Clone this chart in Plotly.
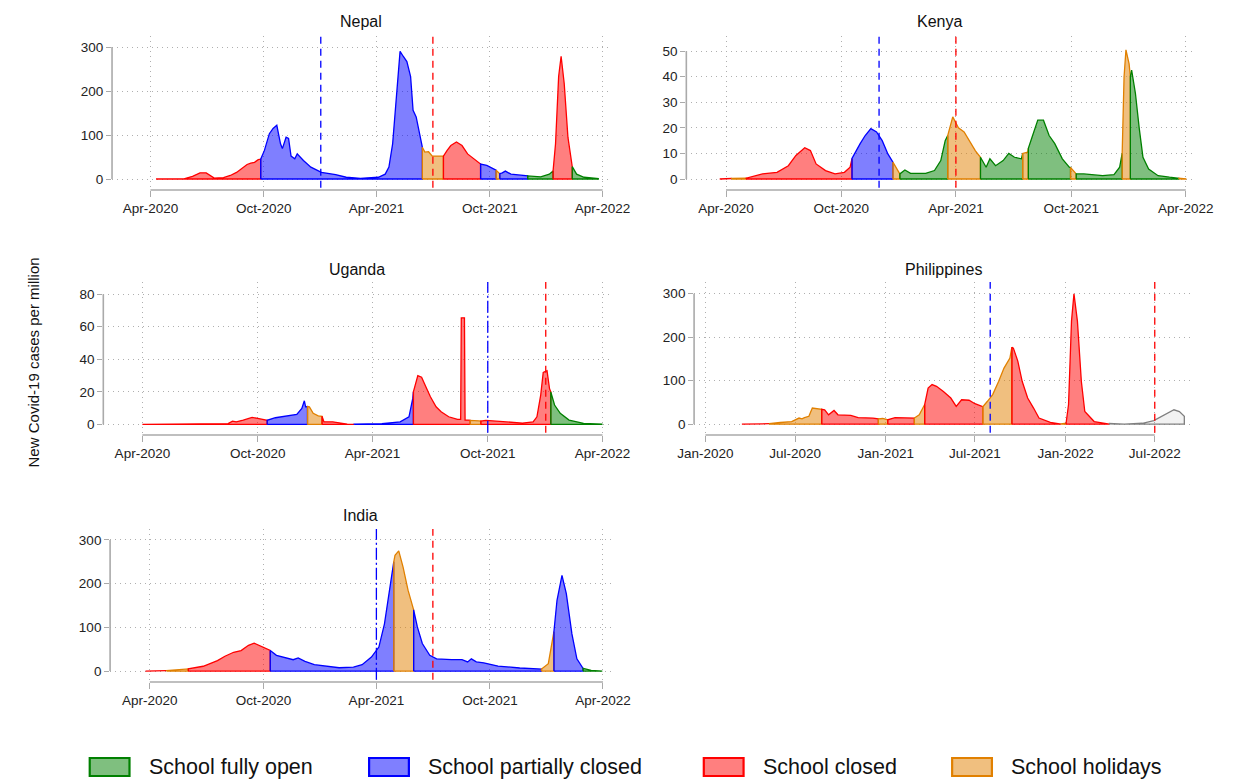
import plotly.graph_objects as go

W, H = 1237, 781

# ---------------- data ----------------
STATUS_ORDER = ["G", "B", "R", "O"]
STATUS_LABELS = {"G": "School fully open", "B": "School partially closed",
                 "R": "School closed", "O": "School holidays"}

TICKS_A = ["2020-04-01", "2020-10-01", "2021-04-01", "2021-10-01", "2022-04-01"]
LABELS_A = ["Apr-2020", "Oct-2020", "Apr-2021", "Oct-2021", "Apr-2022"]
TICKS_B = ["2020-01-01", "2020-07-01", "2021-01-01", "2021-07-01", "2022-01-01", "2022-07-01"]
LABELS_B = ["Jan-2020", "Jul-2020", "Jan-2021", "Jul-2021", "Jan-2022", "Jul-2022"]

NEPAL_DATES = ["2020-04-10", "2020-05-25", "2020-06-08", "2020-06-20", "2020-06-30", "2020-07-08", "2020-07-13",
               "2020-07-28", "2020-08-08", "2020-08-18", "2020-09-04", "2020-09-10", "2020-09-16", "2020-09-22",
               "2020-09-26", "2020-10-02", "2020-10-10", "2020-10-16", "2020-10-22", "2020-10-28", "2020-10-31",
               "2020-11-06", "2020-11-10", "2020-11-14", "2020-11-20", "2020-11-24", "2020-12-04", "2020-12-16",
               "2021-01-02", "2021-01-25", "2021-02-11", "2021-03-06", "2021-04-04", "2021-04-15", "2021-04-21",
               "2021-04-27", "2021-05-03", "2021-05-09", "2021-05-14", "2021-05-20", "2021-05-26", "2021-05-30",
               "2021-06-04", "2021-06-10", "2021-06-14", "2021-06-18", "2021-06-24", "2021-06-30", "2021-07-17",
               "2021-07-18", "2021-07-24", "2021-07-30", "2021-08-08", "2021-08-17", "2021-08-26", "2021-09-06",
               "2021-09-16", "2021-09-26", "2021-10-07", "2021-10-11", "2021-10-17", "2021-10-21", "2021-10-26",
               "2021-11-04", "2021-11-12", "2021-11-30", "2021-12-01", "2021-12-22", "2022-01-05", "2022-01-11",
               "2022-01-15", "2022-01-20", "2022-01-24", "2022-01-29", "2022-02-04", "2022-02-11", "2022-02-18",
               "2022-03-02", "2022-03-25"]
NEPAL_CASES = [0, 0.5, 6, 14, 14, 6, 2,
               3, 8, 15, 33, 36, 38, 44,
               45, 65, 103, 115, 122, 80, 69,
               95, 92, 52, 46, 57, 42, 27,
               15, 10, 4, 1.5, 4, 11, 27,
               80, 195, 290, 279, 267, 233, 156,
               141, 95, 72, 61, 62, 52, 52,
               52, 65, 76, 84, 76, 57, 46,
               34, 31, 23, 20, 12, 14, 18,
               11, 10, 8, 7, 5, 11, 18,
               80, 233, 279, 217, 95, 28, 11,
               4, 0.8]
NEPAL_STATUS = ["R", "R", "R", "R", "R", "R", "R",
                "R", "R", "R", "R", "R", "R", "R",
                "B", "B", "B", "B", "B", "B", "B",
                "B", "B", "B", "B", "B", "B", "B",
                "B", "B", "B", "B", "B", "B", "B",
                "B", "B", "B", "B", "B", "B", "B",
                "B", "B", "O", "O", "O", "O", "O",
                "R", "R", "R", "R", "R", "R", "R",
                "B", "B", "B", "O", "B", "B", "B",
                "B", "B", "B", "G", "G", "G", "R",
                "R", "R", "R", "R", "R", "G", "G",
                "G", "G"]
NEPAL_VLINES = ["2021-01-01", "2021-07-01"]

KENYA_DATES = ["2020-03-22", "2020-04-10", "2020-05-03", "2020-05-29", "2020-06-21", "2020-07-09", "2020-07-21",
               "2020-08-04", "2020-08-13", "2020-08-22", "2020-09-06", "2020-09-21", "2020-10-06", "2020-10-15",
               "2020-10-18", "2020-10-31", "2020-11-08", "2020-11-17", "2020-11-26", "2020-12-05", "2020-12-14",
               "2020-12-22", "2021-01-02", "2021-01-10", "2021-01-19", "2021-02-12", "2021-02-26", "2021-03-08",
               "2021-03-15", "2021-03-19", "2021-03-27", "2021-04-05", "2021-04-14", "2021-04-23", "2021-05-02",
               "2021-05-10", "2021-05-19", "2021-05-25", "2021-06-03", "2021-06-15", "2021-06-24", "2021-07-03",
               "2021-07-14", "2021-07-16", "2021-07-24", "2021-07-25", "2021-07-31", "2021-08-09", "2021-08-18",
               "2021-08-27", "2021-09-05", "2021-09-17", "2021-09-28", "2021-09-30", "2021-10-09", "2021-10-21",
               "2021-11-20", "2021-12-08", "2021-12-17", "2021-12-21", "2021-12-24", "2021-12-27", "2022-01-01",
               "2022-01-03", "2022-01-05", "2022-01-11", "2022-01-17", "2022-01-23", "2022-02-01", "2022-02-16",
               "2022-03-06", "2022-03-21", "2022-04-01"]
KENYA_CASES = [0, 0.2, 0.3, 2, 2.6, 5.2, 9.2,
               12.2, 11.1, 5.9, 3.3, 2, 2.6, 4.6,
               8, 13.8, 17, 19.7, 18.4, 15, 9.8,
               6.6, 2, 3.5, 2.2, 2.2, 3.3, 7.2,
               15, 17, 24.3, 20, 18.4, 14.4, 11,
               8.5, 4.6, 7.9, 5.2, 7.2, 10, 8.5,
               7.9, 10, 10.5, 12, 16.4, 23, 23,
               17, 13.8, 7.9, 4.6, 4.5, 2, 2,
               1.3, 1.7, 4.6, 10, 40, 50.5, 45,
               40, 42.6, 33.5, 20, 8.5, 3.9, 1.3,
               0.7, 0.3, 0.1]
KENYA_STATUS = ["R", "O", "R", "R", "R", "R", "R",
                "R", "R", "R", "R", "R", "R", "R",
                "B", "B", "B", "B", "B", "B", "B",
                "O", "G", "G", "G", "G", "G", "G",
                "G", "O", "O", "O", "O", "O", "O",
                "G", "G", "G", "G", "G", "G", "G",
                "G", "O", "O", "G", "G", "G", "G",
                "G", "G", "G", "G", "O", "G", "G",
                "G", "G", "G", "O", "O", "O", "O",
                "G", "G", "G", "G", "G", "G", "G",
                "G", "O", "O"]
KENYA_VLINES = ["2020-11-30", "2021-04-01"]

UGANDA_DATES = ["2020-04-01", "2020-05-15", "2020-06-01", "2020-06-10", "2020-08-15", "2020-08-22", "2020-08-28",
                "2020-09-08", "2020-09-22", "2020-10-01", "2020-10-12", "2020-10-16", "2020-10-29", "2020-11-16",
                "2020-12-02", "2020-12-10", "2020-12-14", "2020-12-16", "2020-12-19", "2020-12-22", "2020-12-28",
                "2021-01-05", "2021-01-11", "2021-01-14", "2021-01-28", "2021-02-20", "2021-03-03", "2021-04-16",
                "2021-05-15", "2021-05-29", "2021-06-02", "2021-06-04", "2021-06-05", "2021-06-12", "2021-06-18",
                "2021-06-26", "2021-07-02", "2021-07-11", "2021-07-19", "2021-07-31", "2021-08-14", "2021-08-19",
                "2021-08-20", "2021-08-25", "2021-08-26", "2021-08-31", "2021-09-03", "2021-09-17", "2021-09-20",
                "2021-09-28", "2021-10-27", "2021-11-25", "2021-12-12", "2021-12-18", "2021-12-24", "2021-12-28",
                "2022-01-03", "2022-01-07", "2022-01-09", "2022-01-15", "2022-01-24", "2022-02-07", "2022-03-02",
                "2022-03-31"]
UGANDA_CASES = [0, 0.2, 0.6, 0.2, 0.5, 2, 1.6,
                2.7, 4.3, 3.7, 2.9, 2.5, 4.1, 5.1,
                6.1, 9.8, 14.5, 10.8, 11, 10.8, 6.8,
                5.3, 5, 1.6, 1.6, 0.2, 0.1, 0.4,
                1.6, 4.7, 12, 16, 20, 30, 29,
                22, 17, 10.8, 7.8, 4.7, 3.1, 3.1,
                65.5, 65.5, 2.7, 2.7, 2.5, 2.2, 2,
                2.5, 1.6, 0.8, 1.6, 4.7, 18, 32,
                33, 22, 20, 11.9, 6.8, 2.7, 0.6,
                0.2]
UGANDA_STATUS = ["R", "R", "R", "R", "R", "R", "R",
                 "R", "R", "R", "R", "B", "B", "B",
                 "B", "B", "B", "B", "O", "O", "O",
                 "O", "R", "R", "R", "R", "B", "B",
                 "B", "B", "B", "B", "R", "R", "R",
                 "R", "R", "R", "R", "R", "R", "R",
                 "R", "R", "R", "R", "O", "O", "R",
                 "R", "R", "R", "R", "R", "R", "R",
                 "R", "R", "G", "G", "G", "G", "G",
                 "G"]
UGANDA_VLINES = ["2021-10-01", "2022-01-01"]

PHIL_DATES = ["2020-03-15", "2020-04-20", "2020-05-10", "2020-06-01", "2020-06-24", "2020-07-09", "2020-07-15",
              "2020-07-20", "2020-07-29", "2020-08-05", "2020-08-16", "2020-08-24", "2020-08-30", "2020-09-07",
              "2020-09-18", "2020-09-26", "2020-10-22", "2020-11-06", "2020-12-06", "2020-12-17", "2020-12-26",
              "2021-01-05", "2021-01-20", "2021-02-27", "2021-02-28", "2021-03-10", "2021-03-17", "2021-03-21",
              "2021-03-28", "2021-04-05", "2021-04-14", "2021-04-28", "2021-05-13", "2021-05-24", "2021-06-04",
              "2021-06-19", "2021-07-01", "2021-07-16", "2021-07-17", "2021-07-26", "2021-08-06", "2021-08-18",
              "2021-08-29", "2021-09-10", "2021-09-14", "2021-09-17", "2021-09-26", "2021-10-05", "2021-10-16",
              "2021-10-28", "2021-11-08", "2021-12-01", "2021-12-23", "2022-01-02", "2022-01-07", "2022-01-13",
              "2022-01-18", "2022-01-25", "2022-02-02", "2022-02-09", "2022-02-28", "2022-03-26", "2022-03-31",
              "2022-04-30", "2022-06-06", "2022-06-29", "2022-07-21", "2022-08-09", "2022-08-20", "2022-08-30"]
PHIL_CASES = [0, 0.5, 1, 3.8, 6, 14, 12,
              15, 18, 37, 35, 34, 33, 21.5,
              31.5, 21.5, 20, 15, 14, 12, 13,
              10, 15, 14, 14, 21.5, 37, 45,
              83, 91, 87, 75, 60, 41, 56,
              55, 47, 41, 40, 52, 68, 98,
              129, 152, 177, 175, 145, 98, 60,
              37, 14, 4, 0.5, 2, 45, 237,
              300, 237, 98, 29, 6, 2.3, 1.5,
              0, 2, 8, 21.5, 33, 29, 18]
PHIL_STATUS = ["R", "R", "O", "O", "O", "O", "O",
               "O", "O", "O", "O", "R", "R", "R",
               "R", "R", "R", "R", "R", "O", "O",
               "R", "R", "R", "O", "O", "O", "R",
               "R", "R", "R", "R", "R", "R", "R",
               "R", "R", "R", "O", "O", "O", "O",
               "O", "O", "R", "R", "R", "R", "R",
               "R", "R", "R", "O", "R", "R", "R",
               "R", "R", "R", "R", "R", "R", "N",
               "N", "N", "N", "N", "N", "N", "N"]
PHIL_VLINES = ["2021-08-01", "2022-07-01"]

INDIA_DATES = ["2020-03-25", "2020-04-28", "2020-06-02", "2020-06-26", "2020-07-19", "2020-07-31", "2020-08-14",
               "2020-08-26", "2020-09-07", "2020-09-16", "2020-09-24", "2020-10-06", "2020-10-12", "2020-10-22",
               "2020-11-03", "2020-11-11", "2020-11-18", "2020-11-26", "2020-12-07", "2020-12-22", "2021-01-08",
               "2021-01-31", "2021-02-23", "2021-03-09", "2021-03-24", "2021-04-05", "2021-04-14", "2021-04-21",
               "2021-04-29", "2021-05-01", "2021-05-07", "2021-05-14", "2021-05-22", "2021-05-31", "2021-06-06",
               "2021-06-14", "2021-06-26", "2021-07-07", "2021-07-31", "2021-08-17", "2021-08-26", "2021-09-01",
               "2021-09-09", "2021-09-21", "2021-10-14", "2021-11-18", "2021-12-23", "2022-01-03", "2022-01-09",
               "2022-01-12", "2022-01-17", "2022-01-25", "2022-02-01", "2022-02-10", "2022-02-18", "2022-02-28",
               "2022-03-13", "2022-03-31"]
INDIA_CASES = [0, 1, 5, 11, 24, 34, 43,
               47, 59, 64, 59, 51, 47, 36,
               32, 30, 26, 30, 22, 14.5, 11.5,
               7.6, 9, 14.5, 32, 55, 108, 177,
               250, 265, 275, 238, 185, 140, 101,
               63, 36, 28, 26, 26, 21, 28,
               21, 19, 11.5, 7, 4.6, 17, 63,
               90, 162, 219, 177, 85, 28, 6,
               1.5, 0.5]
INDIA_STATUS = ["R", "O", "R", "R", "R", "R", "R",
                "R", "R", "R", "R", "R", "B", "B",
                "B", "B", "B", "B", "B", "B", "B",
                "B", "B", "B", "B", "B", "B", "B",
                "O", "O", "O", "O", "O", "B", "B",
                "B", "B", "B", "B", "B", "B", "B",
                "B", "B", "B", "B", "O", "O", "O",
                "B", "B", "B", "B", "B", "B", "G",
                "G", "G"]
INDIA_VLINES = ["2021-04-01", "2021-07-01"]

# ---------------- styles ----------------
LINE_COLORS = {"G": "rgb(0,128,0)", "B": "rgb(0,0,255)", "R": "rgb(255,0,0)",
               "O": "rgb(225,128,0)", "N": "rgb(128,128,128)"}
FILL_COLORS = {"G": "rgba(0,128,0,0.5)", "B": "rgba(0,0,255,0.5)", "R": "rgba(255,0,0,0.5)",
               "O": "rgba(225,128,0,0.5)", "N": "rgba(128,128,128,0.1)"}
FONT = "Liberation Sans, Arial, sans-serif"
GRID = "rgb(175,175,175)"
AXIS = "rgb(170,170,170)"

panels = [
    dict(name="Nepal", d=NEPAL_DATES, v=NEPAL_CASES, s=NEPAL_STATUS, vl=NEPAL_VLINES,
         px=(99, 613), py=(36, 190), xr=("2020-01-30", "2022-04-14"), yr=(-25, 325),
         yt=[0, 100, 200, 300], xt=TICKS_A, xl=LABELS_A, bdash="7px,5px", title_y=22),
    dict(name="Kenya", d=KENYA_DATES, v=KENYA_CASES, s=KENYA_STATUS, vl=KENYA_VLINES,
         px=(691, 1213), py=(36, 190), xr=("2020-01-29", "2022-04-12"), yr=(-4.3, 55.9),
         yt=[0, 10, 20, 30, 40, 50], xt=TICKS_A, xl=LABELS_A, bdash="7px,5px", title_y=22),
    dict(name="Uganda", d=UGANDA_DATES, v=UGANDA_CASES, s=UGANDA_STATUS, vl=UGANDA_VLINES,
         px=(90, 613), py=(282, 435), xr=("2020-01-30", "2022-04-14"), yr=(-6.5, 87.5),
         yt=[0, 20, 40, 60, 80], xt=TICKS_A, xl=LABELS_A, bdash="12px,3px,2px,3px", title_y=270),
    dict(name="Philippines", d=PHIL_DATES, v=PHIL_CASES, s=PHIL_STATUS, vl=PHIL_VLINES,
         px=(699, 1214), py=(282, 435), xr=("2019-12-09", "2022-09-18"), yr=(-25, 327),
         yt=[0, 100, 200, 300], xt=TICKS_B, xl=LABELS_B, bdash="7px,5px", title_y=270),
    dict(name="India", d=INDIA_DATES, v=INDIA_CASES, s=INDIA_STATUS, vl=INDIA_VLINES,
         px=(97, 614), py=(529, 682), xr=("2020-01-28", "2022-04-15"), yr=(-25, 325),
         yt=[0, 100, 200, 300], xt=TICKS_A, xl=LABELS_A, bdash="12px,3px,2px,3px", title_y=515),
]


def segments(dates, vals, stat):
    segs = []
    start = 0
    for i in range(1, len(dates)):
        if stat[i] != stat[start]:
            segs.append((stat[start], dates[start:i + 1], vals[start:i + 1]))
            start = i
    segs.append((stat[start], dates[start:], vals[start:]))
    return segs


fig = go.Figure()
shapes = []
annotations = []
layout = {}

for k, p in enumerate(panels, start=1):
    xa = "x" if k == 1 else f"x{k}"
    ya = "y" if k == 1 else f"y{k}"
    for st, ds, vs in segments(p["d"], p["v"], p["s"]):
        xs = [ds[0]] + list(ds) + [ds[-1], ds[0]]
        ys = [0] + list(vs) + [0, 0]
        fig.add_trace(go.Scatter(x=xs, y=ys, mode="lines", fill="toself",
                                 fillcolor=FILL_COLORS[st],
                                 line=dict(color=LINE_COLORS[st], width=1.3),
                                 xaxis=xa, yaxis=ya, showlegend=False, hoverinfo="skip"))
    x0, x1 = p["px"]
    ytop, ybot = p["py"]
    layout["xaxis" if k == 1 else f"xaxis{k}"] = dict(
        domain=[x0 / W, x1 / W], range=list(p["xr"]), type="date", anchor=ya,
        tickvals=p["xt"], ticktext=p["xl"], ticks="outside", ticklen=6, tickwidth=1.2,
        tickcolor=AXIS, showgrid=True, gridcolor=GRID, griddash="1px,4px", gridwidth=1,
        showline=False, zeroline=False, tickfont=dict(family=FONT, size=13.5, color="#222"),
        fixedrange=True)
    layout["yaxis" if k == 1 else f"yaxis{k}"] = dict(
        domain=[1 - ybot / H, 1 - ytop / H], range=list(p["yr"]), anchor=xa,
        tickvals=p["yt"], ticks="outside", ticklen=5, tickwidth=1.2, tickcolor=AXIS,
        showgrid=True, gridcolor=GRID, griddash="1px,4px", gridwidth=1,
        showline=False, zeroline=False, tickfont=dict(family=FONT, size=13.5, color="#222"),
        fixedrange=True)
    # Stata-like axis lines spanning only the tick range
    shapes.append(dict(type="line", xref=xa, yref=f"{ya} domain", x0=p["xt"][0], x1=p["xt"][-1],
                       y0=0, y1=0, line=dict(color=AXIS, width=1.6), layer="above"))
    shapes.append(dict(type="line", xref=f"{xa} domain", yref=ya, x0=0, x1=0,
                       y0=p["yt"][0], y1=p["yt"][-1], line=dict(color=AXIS, width=1.6), layer="above"))
    # policy dashed lines: first blue, second red
    shapes.append(dict(type="line", xref=xa, yref=f"{ya} domain", x0=p["vl"][0], x1=p["vl"][0],
                       y0=0.015, y1=1, line=dict(color="rgb(0,0,255)", width=1.3, dash=p["bdash"]),
                       layer="above"))
    shapes.append(dict(type="line", xref=xa, yref=f"{ya} domain", x0=p["vl"][1], x1=p["vl"][1],
                       y0=0.015, y1=1, line=dict(color="rgb(255,0,0)", width=1.3, dash="7px,5px"),
                       layer="above"))
    annotations.append(dict(text=p["name"], xref="paper", yref="paper",
                            x=(x0 + x1) / 2 / W, y=1 - p["title_y"] / H,
                            xanchor="center", yanchor="middle", showarrow=False,
                            font=dict(family=FONT, size=16, color="#111")))

# y-axis title
annotations.append(dict(text="New Covid-19 cases per million", xref="paper", yref="paper",
                        x=18 / W, y=1 - 362 / H, textangle=-90, xanchor="center", yanchor="middle",
                        showarrow=False, font=dict(family=FONT, size=15, color="#111")))

# legend (boxes + labels)
leg_x = [76, 364, 709, 965]
for lx, st in zip(leg_x, STATUS_ORDER):
    shapes.append(dict(type="rect", xref="paper", yref="paper",
                       x0=lx / W, x1=(lx + 41) / W, y0=1 - 776 / H, y1=1 - 758 / H,
                       fillcolor=FILL_COLORS[st], line=dict(color=LINE_COLORS[st], width=2.2)))
    annotations.append(dict(text=STATUS_LABELS[st], xref="paper", yref="paper",
                            x=(lx + 59) / W, y=1 - 767 / H, xanchor="left", yanchor="middle",
                            showarrow=False, font=dict(family=FONT, size=21.5, color="#111")))

fig.update_layout(width=W, height=H, margin=dict(l=0, r=0, t=0, b=0),
                  paper_bgcolor="white", plot_bgcolor="white", showlegend=False,
                  shapes=shapes, annotations=annotations, **layout)

fig.write_html("out.html", config={"displayModeBar": False},
               post_script="document.body.style.margin='0';document.body.style.overflow='hidden';")
